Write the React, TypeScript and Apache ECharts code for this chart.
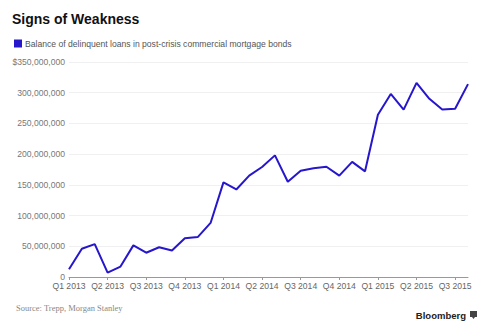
import React, { useEffect, useRef } from "react";
import * as echarts from "echarts";

const TITLE = "Signs of Weakness";
const SERIES_NAME = "Balance of delinquent loans in post-crisis commercial mortgage bonds";
const SOURCE = "Source: Trepp, Morgan Stanley";

const months: string[] = [
  "2013-01", "2013-02", "2013-03", "2013-04", "2013-05", "2013-06",
  "2013-07", "2013-08", "2013-09", "2013-10", "2013-11", "2013-12",
  "2014-01", "2014-02", "2014-03", "2014-04", "2014-05", "2014-06",
  "2014-07", "2014-08", "2014-09", "2014-10", "2014-11", "2014-12",
  "2015-01", "2015-02", "2015-03", "2015-04", "2015-05", "2015-06",
  "2015-07", "2015-08",
];

// millions of dollars
const balanceMillions: number[] = [
  12.5, 46, 53.5, 7, 17, 51.5, 39.5, 48.5, 43, 63, 65, 88,
  154, 142.5, 165, 179, 198, 155, 173, 177, 179.5, 165, 187.5, 172,
  264, 298, 272.5, 316, 290, 272.5, 274, 314,
];

const yTickLabels: string[] = [
  "0", "50,000,000", "100,000,000", "150,000,000",
  "200,000,000", "250,000,000", "300,000,000", "$350,000,000",
];

const LINE_COLOR = "#2616cc";

function quarterLabel(m: string): string {
  const [y, mo] = m.split("-").map(Number);
  return "Q" + (Math.floor((mo - 1) / 3) + 1) + " " + y;
}

export default function App() {
  const ref = useRef<HTMLDivElement>(null);
  useEffect(() => {
    document.body.style.margin = "0";
    if (!ref.current) return;
    const chart = echarts.init(ref.current, null, { renderer: "svg" });
    const values = balanceMillions.map((v) => v * 1e6);
    chart.setOption({
      animation: false,
      backgroundColor: "#ffffff",
      grid: { left: 69, right: 20, top: 62, bottom: 54, containLabel: false },
      legend: {
        left: 9,
        top: 34,
        itemWidth: 8,
        itemHeight: 8,
        itemGap: 10,
        selectedMode: false,
        data: [{ name: SERIES_NAME, icon: "rect" }],
        textStyle: { fontSize: 8.6, color: "#555", fontFamily: "Liberation Sans", padding: [0, 0, 0, -2] },
      },
      xAxis: {
        type: "category",
        data: months,
        boundaryGap: false,
        axisLine: { show: true, lineStyle: { color: "#999", width: 1 } },
        axisTick: {
          show: true,
          length: 3,
          interval: (i: number) => i % 3 === 0,
          lineStyle: { color: "#999" },
        },
        axisLabel: {
          interval: (i: number) => i % 3 === 0,
          formatter: (v: string) => quarterLabel(v),
          fontSize: 8.6,
          color: "#666",
          margin: 4,
          fontFamily: "Liberation Sans",
        },
        splitLine: { show: false },
      },
      yAxis: {
        type: "value",
        min: 0,
        max: 350e6,
        interval: 50e6,
        axisLine: { show: false },
        axisTick: { show: false },
        axisLabel: {
          formatter: (v: number) => yTickLabels[Math.round(v / 50e6)] ?? String(v),
          fontSize: 8.6,
          color: "#777",
          margin: 4,
          fontFamily: "Liberation Sans",
        },
        splitLine: { show: true, lineStyle: { color: "#f0f0f0", width: 1 } },
      },
      series: [
        {
          name: SERIES_NAME,
          type: "line",
          data: values,
          symbol: "none",
          color: LINE_COLOR,
          lineStyle: { color: LINE_COLOR, width: 2 },
        },
      ],
      graphic: [
        {
          type: "text",
          left: 12,
          top: 12,
          style: {
            text: TITLE,
            fontSize: 14,
            fontWeight: "bold",
            fill: "#111",
            fontFamily: "Liberation Sans",
          },
        },
        {
          type: "text",
          left: 16,
          top: 303,
          style: {
            text: SOURCE,
            fontSize: 8.5,
            fill: "#888",
            fontFamily: "Liberation Serif",
          },
        },
        {
          type: "text",
          right: 22,
          top: 310,
          style: {
            text: "Bloomberg",
            fontSize: 9.5,
            fontWeight: "bold",
            fill: "#222",
            fontFamily: "Liberation Sans",
          },
        },
        {
          type: "rect",
          shape: { x: 470, y: 311, width: 7, height: 6 },
          style: { fill: "#444" },
        },
        {
          type: "polygon",
          shape: { points: [[472, 317], [475, 317], [473.5, 319]] },
          style: { fill: "#444" },
        },
      ],
    });
    return () => chart.dispose();
  }, []);
  return <div ref={ref} style={{ width: 488, height: 331, position: "absolute", left: 0, top: 0 }} />;
}
